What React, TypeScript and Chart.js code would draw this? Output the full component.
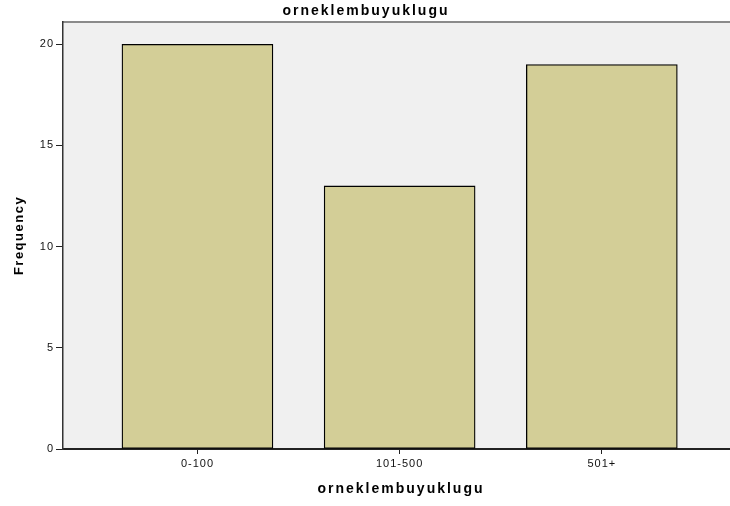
import React, { useEffect, useRef } from "react";
import { Chart, registerables } from "chart.js";

Chart.register(...registerables);

const categories: string[] = ["0-100", "101-500", "501+"];
const frequencies: number[] = [20, 13, 19];
const yTicks: number[] = [0, 5, 10, 15, 20];
const chartTitle = "orneklembuyuklugu";
const xTitle = "orneklembuyuklugu";
const yTitle = "Frequency";

const FONT = "'Liberation Sans', Arial, sans-serif";

export default function App() {
  const ref = useRef<HTMLCanvasElement | null>(null);

  useEffect(() => {
    if (!ref.current) return;
    const bgPlugin = {
      id: "bgPlugin",
      beforeDraw(chart: any) {
        const { ctx, chartArea } = chart;
        ctx.save();
        ctx.fillStyle = "#ffffff";
        ctx.fillRect(0, 0, chart.width, chart.height);
        ctx.fillStyle = "#F0F0F0";
        ctx.fillRect(chartArea.left, chartArea.top, chartArea.right - chartArea.left, chartArea.bottom - chartArea.top);
        ctx.strokeStyle = "#8a8a8a";
        ctx.lineWidth = 2;
        ctx.beginPath();
        ctx.moveTo(chartArea.left, chartArea.top);
        ctx.lineTo(chartArea.right, chartArea.top);
        ctx.stroke();
        ctx.restore();
        (ctx as any).letterSpacing = "1px";
      },
      afterDraw(chart: any) {
        const { ctx, chartArea } = chart;
        ctx.save();
        ctx.fillStyle = "#000000";
        ctx.textAlign = "center";
        ctx.textBaseline = "middle";
        (ctx as any).letterSpacing = "2px";
        ctx.font = `bold 14px ${FONT}`;
        ctx.fillText(chartTitle, 366, 11);
        ctx.fillText(xTitle, 401, 489);
        (ctx as any).letterSpacing = "1.5px";
        ctx.font = `bold 13px ${FONT}`;
        ctx.translate(19, (chartArea.top + chartArea.bottom) / 2);
        ctx.rotate(-Math.PI / 2);
        ctx.fillText(yTitle, 0, 0);
        ctx.restore();
      },
    };

    const chart = new Chart(ref.current, {
      type: "bar",
      data: {
        datasets: [
          {
            data: frequencies.map((v, i) => ({ x: i, y: v })),
            backgroundColor: "#D3CE97",
            borderColor: "#000000",
            borderWidth: 1.3,
            borderSkipped: false,
            barThickness: 151,
          } as any,
        ],
      },
      options: {
        animation: false,
        responsive: false,
        layout: { padding: { top: 22, right: 0, left: 0, bottom: 0 } },
        plugins: { legend: { display: false }, tooltip: { enabled: false }, title: { display: false } },
        scales: {
          x: {
            type: "linear",
            offset: false,
            min: -0.665,
            max: 2.634,
            afterBuildTicks(axis: any) {
              axis.ticks = categories.map((_, i) => ({ value: i }));
            },
            afterFit(axis: any) {
              axis.height = 57;
            },
            ticks: {
              callback: (v: any) => categories[v as number] ?? "",
              color: "#111111",
              font: { family: FONT, size: 11 },
              padding: 3,
              maxRotation: 0,
              autoSkip: false,
            },
            grid: { offset: false, drawOnChartArea: false, drawTicks: true, tickLength: 5, color: "#222222", tickColor: "#222222" },
            border: { display: true, color: "#222222", width: 2 },
          },
          y: {
            type: "linear",
            min: 0,
            max: 21.1,
            afterBuildTicks(axis: any) {
              axis.ticks = yTicks.map((v) => ({ value: v }));
            },
            afterFit(axis: any) {
              axis.width = 63;
            },
            ticks: {
              color: "#111111",
              font: { family: FONT, size: 11 },
              padding: 2,
            },
            grid: { drawOnChartArea: false, drawTicks: true, tickLength: 7, color: "#222222", tickColor: "#222222" },
            border: { display: true, color: "#333333", width: 1.5 },
          },
        },
      },
      plugins: [bgPlugin],
    } as any);
    return () => chart.destroy();
  }, []);

  return (
    <div style={{ position: "absolute", left: 0, top: 0, width: 730, height: 506 }}>
      <canvas ref={ref} width={730} height={506} style={{ display: "block" }} />
    </div>
  );
}
